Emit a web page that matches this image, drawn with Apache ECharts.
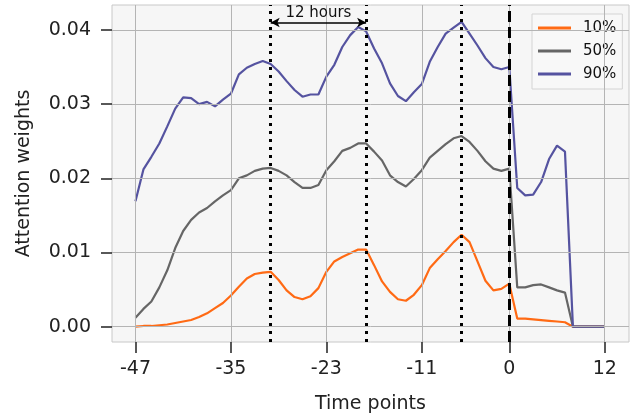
<!DOCTYPE html>
<html>
<head>
<meta charset="utf-8">
<script src="https://cdn.jsdelivr.net/npm/echarts@6/dist/echarts.min.js"></script>
<style>
	html, body { margin: 0; padding: 0; background: #fff; }
	#attnChart { width: 636px; height: 420px; }
</style>
</head>
<body>
<div id="attnChart"></div>
<script>
// time points -47 .. 12
var timePoints = [];
for (var t = -47; t <= 12; t++) timePoints.push(t);

var xTicks = [-47, -35, -23, -11, 0, 12];
var yTicks = [0, 0.01, 0.02, 0.03, 0.04];
var seriesNames = ['10%', '50%', '90%'];
var seriesColors = ['#ff6a14', '#666666', '#5553a0'];

var q10 = [
	0.0000, 0.0001, 0.0001, 0.0002, 0.0003, 0.0005, 0.0007, 0.0009, 0.0013, 0.0018,
	0.0025, 0.0032, 0.0042, 0.0054, 0.0065, 0.0071, 0.0073, 0.0074, 0.0063, 0.0049,
	0.0040, 0.0037, 0.0041, 0.0052, 0.0074, 0.0088, 0.0094, 0.0099, 0.0104, 0.0104,
	0.0083, 0.0061, 0.0047, 0.0037, 0.0035, 0.0043, 0.0056, 0.0079, 0.0091, 0.0102,
	0.0114, 0.0124, 0.0114, 0.0088, 0.0062, 0.0049, 0.0051, 0.0058, 0.0011, 0.0011,
	0.0010, 0.0009, 0.0008, 0.0007, 0.0006, 0.0000, 0.0000, 0.0000, 0.0000, 0.0000
];
var q50 = [
	0.0012, 0.0024, 0.0034, 0.0053, 0.0076, 0.0106, 0.0129, 0.0144, 0.0154, 0.0160,
	0.0169, 0.0177, 0.0184, 0.0200, 0.0204, 0.0210, 0.0213, 0.0214, 0.0210, 0.0204,
	0.0195, 0.0187, 0.0187, 0.0191, 0.0211, 0.0223, 0.0237, 0.0241, 0.0247, 0.0247,
	0.0236, 0.0224, 0.0204, 0.0195, 0.0189, 0.0199, 0.0211, 0.0228, 0.0237, 0.0246,
	0.0254, 0.0257, 0.0249, 0.0237, 0.0223, 0.0213, 0.0210, 0.0213, 0.0053, 0.0053,
	0.0056, 0.0057, 0.0053, 0.0049, 0.0046, 0.0000, 0.0000, 0.0000, 0.0000, 0.0000
];
var q90 = [
	0.0169, 0.0212, 0.0229, 0.0247, 0.0270, 0.0294, 0.0309, 0.0308, 0.0300, 0.0303,
	0.0297, 0.0306, 0.0314, 0.0340, 0.0349, 0.0354, 0.0358, 0.0354, 0.0344, 0.0331,
	0.0319, 0.0310, 0.0313, 0.0313, 0.0337, 0.0353, 0.0377, 0.0393, 0.0404, 0.0398,
	0.0375, 0.0355, 0.0328, 0.0311, 0.0304, 0.0316, 0.0327, 0.0357, 0.0377, 0.0395,
	0.0403, 0.0411, 0.0395, 0.0379, 0.0362, 0.0350, 0.0347, 0.0350, 0.0187, 0.0177,
	0.0178, 0.0195, 0.0226, 0.0244, 0.0236, 0.0000, 0.0000, 0.0000, 0.0000, 0.0000
];

// 12-hour marks and the forecast start
var periodMarks = [-30, -18, -6];
var forecastStart = 0;
var spanLabel = '12 hours';
var spanY = 0.041;

attentionChart();

function attentionChart() {
	var dom = document.getElementById('attnChart');
	var myChart = echarts.init(dom, null, { renderer: 'canvas' });
	var font = 'DejaVu Sans';

	function pairs(vals) {
		return timePoints.map(function(t, i) {
			return [t, vals[i]];
		});
	}

	var allValues = [q10, q50, q90];
	var series = seriesNames.map(function(name, i) {
		return {
			name: name,
			type: 'line',
			data: pairs(allValues[i]),
			showSymbol: false,
			symbol: 'none',
			z: 3,
			lineStyle: {
				color: seriesColors[i],
				width: 2.2
			},
			itemStyle: {
				color: seriesColors[i]
			}
		};
	});

	// grid lines at the custom tick positions
	var gridLines = [];
	xTicks.forEach(function(v) {
		gridLines.push({ xAxis: v });
	});
	yTicks.forEach(function(v) {
		gridLines.push({ yAxis: v });
	});
	series.unshift({
		name: 'grid',
		type: 'line',
		data: [],
		z: 1,
		markLine: {
			silent: true,
			animation: false,
			symbol: 'none',
			label: { show: false },
			lineStyle: { color: '#b4b4b4', width: 1, type: 'solid' },
			data: gridLines
		}
	});

	var vLines = periodMarks.map(function(v) {
		return { xAxis: v, lineStyle: { type: [3, 5], width: 3, color: '#000' } };
	});
	vLines.push({ xAxis: forecastStart, lineStyle: { type: [11, 5], width: 3, color: '#000' } });

	series.push({
		name: 'marks',
		type: 'line',
		data: [],
		z: 5,
		markLine: {
			silent: true,
			animation: false,
			symbol: 'none',
			label: { show: false },
			data: vLines
		}
	});
	series.push({
		name: 'span',
		type: 'line',
		data: [],
		z: 6,
		markLine: {
			silent: true,
			animation: false,
			symbol: ['arrow', 'arrow'],
			symbolSize: [7, 9],
			lineStyle: { type: 'solid', width: 1.5, color: '#000' },
			label: {
				show: true,
				position: 'insideMiddleTop',
				formatter: spanLabel,
				color: '#111',
				fontSize: 15,
				fontFamily: font,
				distance: 2
			},
			data: [[{ coord: [periodMarks[0], spanY] }, { coord: [periodMarks[1], spanY] }]]
		}
	});

	var option = {
		animation: false,
		backgroundColor: '#ffffff',
		grid: {
			left: 112,
			right: 7,
			top: 5,
			bottom: 78,
			show: true,
			backgroundColor: '#f6f6f6',
			borderColor: '#c8c8c8',
			borderWidth: 1
		},
		legend: {
			data: seriesNames,
			orient: 'vertical',
			left: 532,
			top: 14,
			icon: 'rect',
			itemWidth: 33,
			itemHeight: 3,
			itemGap: 5,
			padding: [5, 6, 6, 6],
			backgroundColor: 'rgba(248,248,248,0.9)',
			borderColor: '#d4d4d4',
			borderWidth: 1,
			textStyle: {
				fontFamily: font,
				fontSize: 15,
				color: '#111',
				lineHeight: 18,
				padding: [0, 0, 0, 7]
			}
		},
		xAxis: {
			type: 'value',
			min: -49.95,
			max: 15.05,
			name: 'Time points',
			nameLocation: 'middle',
			nameGap: 53,
			nameTextStyle: {
				fontFamily: font,
				fontSize: 19,
				color: '#222'
			},
			axisLine: { show: false, onZero: false },
			splitLine: { show: false },
			axisTick: {
				show: true,
				inside: false,
				length: 11,
				customValues: xTicks,
				lineStyle: { color: '#222', width: 1.5 }
			},
			axisLabel: {
				customValues: xTicks,
				margin: 18,
				fontFamily: font,
				fontSize: 19,
				color: '#222'
			}
		},
		yAxis: {
			type: 'value',
			min: -0.00206,
			max: 0.04336,
			name: 'Attention weights',
			nameLocation: 'middle',
			nameGap: 78,
			nameTextStyle: {
				fontFamily: font,
				fontSize: 19,
				color: '#222'
			},
			axisLine: { show: false, onZero: false },
			splitLine: { show: false },
			axisTick: {
				show: true,
				inside: false,
				length: 11,
				customValues: yTicks,
				lineStyle: { color: '#222', width: 1.5 }
			},
			axisLabel: {
				customValues: yTicks,
				margin: 21,
				fontFamily: font,
				fontSize: 19,
				color: '#222',
				formatter: function(v) {
					return v.toFixed(2);
				}
			}
		},
		series: series
	};
	myChart.setOption(option, true);
}
</script>
</body>
</html>
